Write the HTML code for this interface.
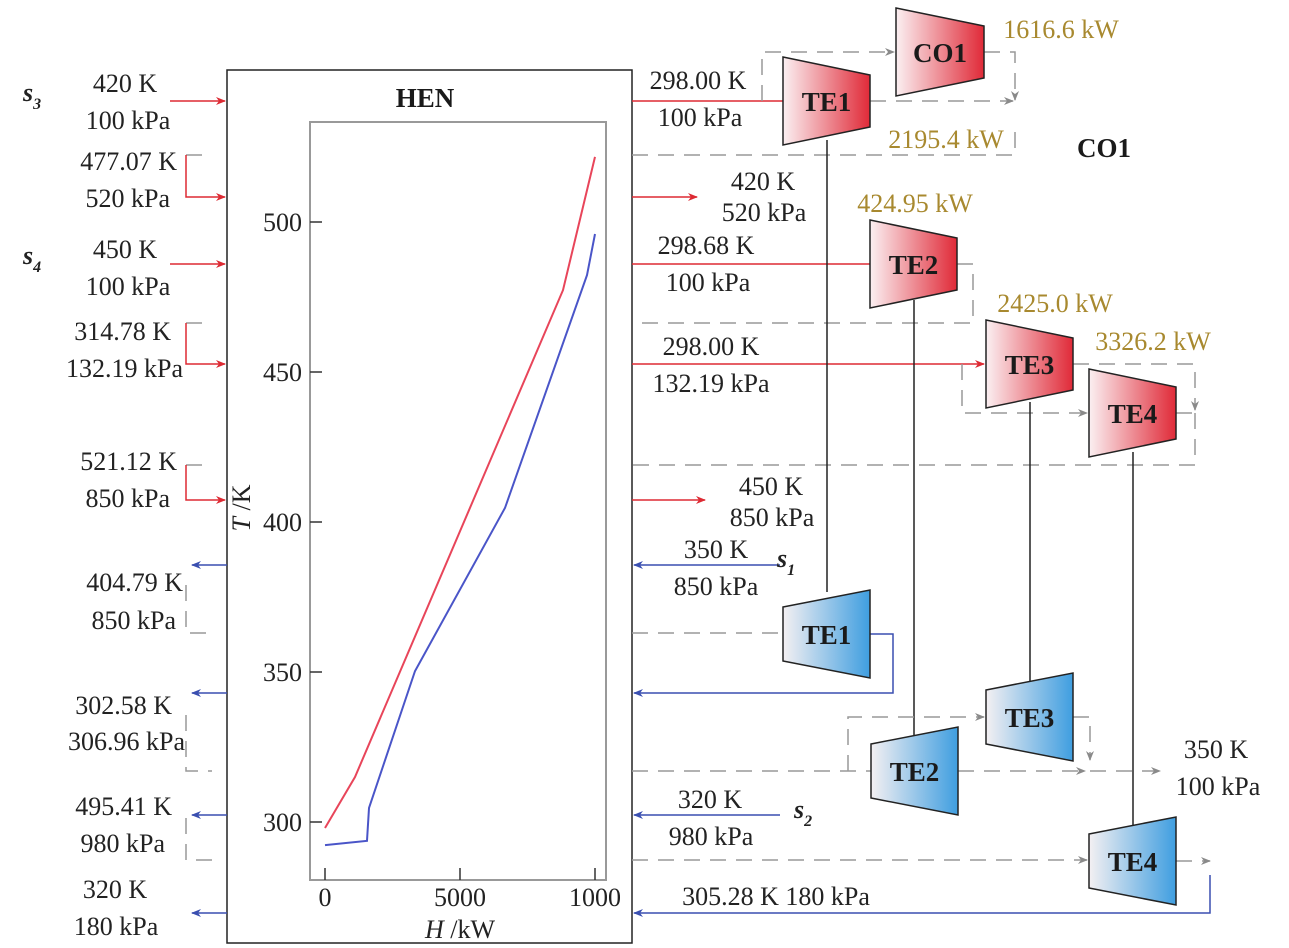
<!DOCTYPE html>
<html><head><meta charset="utf-8"><style>
html,body{margin:0;padding:0;background:#fff}
svg{display:block;font-family:"Liberation Serif","DejaVu Serif",serif}
text{font-family:"Liberation Serif","DejaVu Serif",serif}
.t{font-size:26px;fill:#222;font-family:"Liberation Serif","DejaVu Serif",serif}
.g{font-size:26px;fill:#a8892f;font-family:"Liberation Serif","DejaVu Serif",serif}
.b{font-size:27px;font-weight:bold;fill:#1a1a1a;font-family:"Liberation Serif","DejaVu Serif",serif}
</style></head><body>
<svg id="s" width="1289" height="948" viewBox="0 0 1289 948" xmlns="http://www.w3.org/2000/svg">
<defs>
<linearGradient id="rg" x1="0" x2="1" y1="0" y2="0"><stop offset="0" stop-color="#fbf0f2"/><stop offset="1" stop-color="#e02a38"/></linearGradient>
<linearGradient id="bg" x1="0" x2="1" y1="0" y2="0"><stop offset="0" stop-color="#f4f0f2"/><stop offset="1" stop-color="#3f9ee0"/></linearGradient>
<marker id="ar" viewBox="0 0 10 10" refX="9" refY="5" markerWidth="10" markerHeight="10" markerUnits="userSpaceOnUse" orient="auto-start-reverse"><path d="M0,1 L10,5 L0,9 L3,5z" fill="#dd2a33"/></marker>
<marker id="ab" viewBox="0 0 10 10" refX="9" refY="5" markerWidth="10" markerHeight="10" markerUnits="userSpaceOnUse" orient="auto-start-reverse"><path d="M0,1 L10,5 L0,9 L3,5z" fill="#3a4fb0"/></marker>
<marker id="ag" viewBox="0 0 10 10" refX="9" refY="5" markerWidth="10" markerHeight="10" markerUnits="userSpaceOnUse" orient="auto-start-reverse"><path d="M0,1 L10,5 L0,9 L3,5z" fill="#8a8a8a"/></marker>
</defs>

<rect x="227" y="70" width="405" height="873" fill="none" stroke="#222" stroke-width="1.5"/>
<text x="425" y="107" text-anchor="middle" class="b">HEN</text>
<rect x="310" y="122" width="296" height="758" fill="none" stroke="#999" stroke-width="2"/>
<g id="axes"></g>
<g id="curves"></g>
<g id="lines" fill="none" stroke-width="1.5"></g>
<g id="units"></g>
<g id="labels"></g>
</svg>
<script>
const hotH=[0,1111,8815,10000];
const hotT=[298,315,477.3,521.7];
const coldH=[0,1555,1630,3333,6667,9704,10000];
const coldT=[292.3,293.7,304.7,350.3,404.7,482.3,496];
const yTicks=[300,350,400,450,500];
const xTicks=[0,5000,10000];
const xTickLabels=["0","5000","1000"];
const NS="http://www.w3.org/2000/svg";
function X(h){return 325+(h/5000)*135;}
function Y(t){return 822-(t-300)*3;}
function mk(tag,attrs,parent,txt){const e=document.createElementNS(NS,tag);for(const k in attrs)e.setAttribute(k,attrs[k]);if(txt!==undefined)e.textContent=txt;document.getElementById(parent).appendChild(e);return e;}
yTicks.forEach(v=>{
 let l=mk('line',{x1:310,x2:322,y1:Y(v),y2:Y(v),stroke:'#333','stroke-width':1.5},'axes');
 
 
 let t=mk('text',{x:302,y:Y(v)+9,'text-anchor':'end',class:'t'},'axes',String(v));
 
 
});
xTicks.forEach((v,i)=>{
 let l=mk('line',{x1:X(v),x2:X(v),y1:868,y2:880,stroke:'#333','stroke-width':1.5},'axes');
 
 
 let t=mk('text',{x:X(v),y:906,'text-anchor':'middle',class:'t'},'axes',xTickLabels[i]);
 
 
});
let yt=mk('text',{x:0,y:0,class:'t',transform:'translate(250,508) rotate(-90)','text-anchor':'middle'},'axes');
yt.innerHTML='<tspan font-style="italic">T</tspan> /K';


let xt=mk('text',{x:460,y:938,class:'t','text-anchor':'middle'},'axes');
xt.innerHTML='<tspan font-style="italic">H</tspan> /kW';


let hp=mk('polyline',{points:hotH.map((h,i)=>X(h)+','+Y(hotT[i])).join(' '),fill:'none',stroke:'#e8455a','stroke-width':2},'curves');


let cp=mk('polyline',{points:coldH.map((h,i)=>X(h)+','+Y(coldT[i])).join(' '),fill:'none',stroke:'#4a55c8','stroke-width':2},'curves');



function ln(d,type,name){const st={r:['#dd2a33','','url(#ar)'],b:['#3a4fb0','','url(#ab)'],g:['#999','16 10','url(#ag)'],gn:['#999','16 10',''],k:['#222','',''],rn:['#dd2a33','',''],bn:['#3a4fb0','','']}[type];
 const p=mk('path',{d:d,stroke:st[0],'stroke-dasharray':st[1]},'lines');if(st[2])p.setAttribute('marker-end',st[2]);
 
 }
ln('M170,101 H225','r','s3-inlet');
ln('M186,155 H212','gn','bracket');ln('M186,155 V197 H225','r','inlet-520');
ln('M170,264 H225','r','s4-inlet');
ln('M186,323 H212','gn','bracket');ln('M186,323 V364 H225','r','inlet-132');
ln('M186,465 H212','gn','bracket');ln('M186,465 V500 H225','r','inlet-850');
ln('M227,565 H192','b','outlet-404');ln('M186,585 V633 H212','gn','bracket');
ln('M227,693 H192','b','outlet-302');ln('M186,715 V771 H212','gn','bracket');
ln('M227,815 H192','b','outlet-495');ln('M186,818 V860 H212','gn','bracket');
ln('M227,913 H192','b','outlet-320');
ln('M632,101 H783','rn','line-te1');
ln('M762,101 V52 H894','g','to-co1');ln('M984,52 H1015 V100','g','co1-out');ln('M870,101 H1013','g','te1-out');
ln('M632,155 H1015 V130','gn','return-155');
ln('M632,197 H697','r','out-420');
ln('M632,264 H870','rn','line-te2');ln('M957,264 H973 V323 H632','gn','te2-out');
ln('M632,364 H984','r','line-te3');ln('M1073,364 H1195 V410','g','te3-out');ln('M962,364 V413 H1087','g','to-te4');
ln('M1176,413 H1195','gn','te4-out');ln('M1195,413 V465 H632','gn','return-465');
ln('M632,500 H705','r','out-450');
ln('M827,140 V592','k','shaft-1');ln('M914,300 V735','k','shaft-2');ln('M1030,402 V682','k','shaft-3');ln('M1133,452 V826','k','shaft-4');
ln('M780,565 H634','b','s1-inlet');
ln('M632,633 H783','gn','to-te1b');ln('M870,634 H893 V693 H634','b','te1b-out');
ln('M632,771 H871','gn','to-te2b');ln('M958,771 H1085','g','te2b-out');ln('M1090,771 H1160','g','exit');
ln('M848,771 V717 H984','g','to-te3b');ln('M1073,717 H1090 V760','g','te3b-out');
ln('M780,815 H634','b','s2-inlet');
ln('M632,860 H1087','g','to-te4b');ln('M1176,861 H1210','g','te4b-out');ln('M1210,875 V913 H634','b','return-913');

function unit(x1,x2,cy,hl,hr,grad,label,name){
 const g=mk('g',{},'units');
 
 
 const p=document.createElementNS(NS,'polygon');
 p.setAttribute('points',`${x1},${cy-hl} ${x2},${cy-hr} ${x2},${cy+hr} ${x1},${cy+hl}`);
 p.setAttribute('fill',grad);p.setAttribute('stroke','#222');p.setAttribute('stroke-width','1.5');
 g.appendChild(p);
 const t=document.createElementNS(NS,'text');t.setAttribute('x',(x1+x2)/2);t.setAttribute('y',cy+10);t.setAttribute('text-anchor','middle');t.setAttribute('class','b');t.textContent=label;g.appendChild(t);
}
unit(896,984,52,44,26,'url(#rg)','CO1','co1-compressor');
unit(783,870,101,44,26,'url(#rg)','TE1','te1-hot');
unit(870,957,264,44,26,'url(#rg)','TE2','te2-hot');
unit(986,1073,364,44,26,'url(#rg)','TE3','te3-hot');
unit(1089,1176,413,44,26,'url(#rg)','TE4','te4-hot');
unit(783,870,634,27,44,'url(#bg)','TE1','te1-cold');
unit(986,1073,717,27,44,'url(#bg)','TE3','te3-cold');
unit(871,958,771,27,44,'url(#bg)','TE2','te2-cold');
unit(1089,1176,861,27,44,'url(#bg)','TE4','te4-cold');

const L=[
[125,92,'420 K','m','t'],[128,129,'100 kPa','m','t'],[177,170,'477.07 K','e','t'],[170,207,'520 kPa','e','t'],
[125,258,'450 K','m','t'],[128,295,'100 kPa','m','t'],[171,340,'314.78 K','e','t'],[183,377,'132.19 kPa','e','t'],
[177,470,'521.12 K','e','t'],[170,507,'850 kPa','e','t'],[183,591,'404.79 K','e','t'],[176,629,'850 kPa','e','t'],
[172,714,'302.58 K','e','t'],[185,750,'306.96 kPa','e','t'],[172,815,'495.41 K','e','t'],[165,852,'980 kPa','e','t'],
[115,898,'320 K','m','t'],[116,935,'180 kPa','m','t'],
[698,89,'298.00 K','m','t'],[700,126,'100 kPa','m','t'],[763,190,'420 K','m','t'],[764,221,'520 kPa','m','t'],
[706,254,'298.68 K','m','t'],[708,291,'100 kPa','m','t'],[711,355,'298.00 K','m','t'],[711,392,'132.19 kPa','m','t'],
[771,495,'450 K','m','t'],[772,526,'850 kPa','m','t'],[716,558,'350 K','m','t'],[716,595,'850 kPa','m','t'],
[710,808,'320 K','m','t'],[711,845,'980 kPa','m','t'],[776,905,'305.28 K  180 kPa','m','t'],
[1216,758,'350 K','m','t'],[1218,795,'100 kPa','m','t'],
[1061,38,'1616.6 kW','m','g'],[946,148,'2195.4 kW','m','g'],[915,212,'424.95 kW','m','g'],[1055,312,'2425.0 kW','m','g'],[1153,350,'3326.2 kW','m','g'],
[1104,157,'CO1','m','b']];
L.forEach(a=>{
 const t=mk('text',{x:a[0],y:a[1],'text-anchor':a[3]=='m'?'middle':'end',class:a[4]},'labels',a[2]);
 if(a[2].indexOf('  ')>=0)t.setAttribute('xml:space','preserve');
 
 
});
const S=[[32,101,'3'],[32,264,'4'],[786,567,'1'],[803,818,'2']];
S.forEach(a=>{
 const t=mk('text',{x:a[0],y:a[1],class:'t','font-weight':'bold','font-style':'italic','text-anchor':'middle'},'labels');
 t.innerHTML='s<tspan font-size="16" dy="8">'+a[2]+'</tspan>';
 
 
});
</script>
</body></html>
